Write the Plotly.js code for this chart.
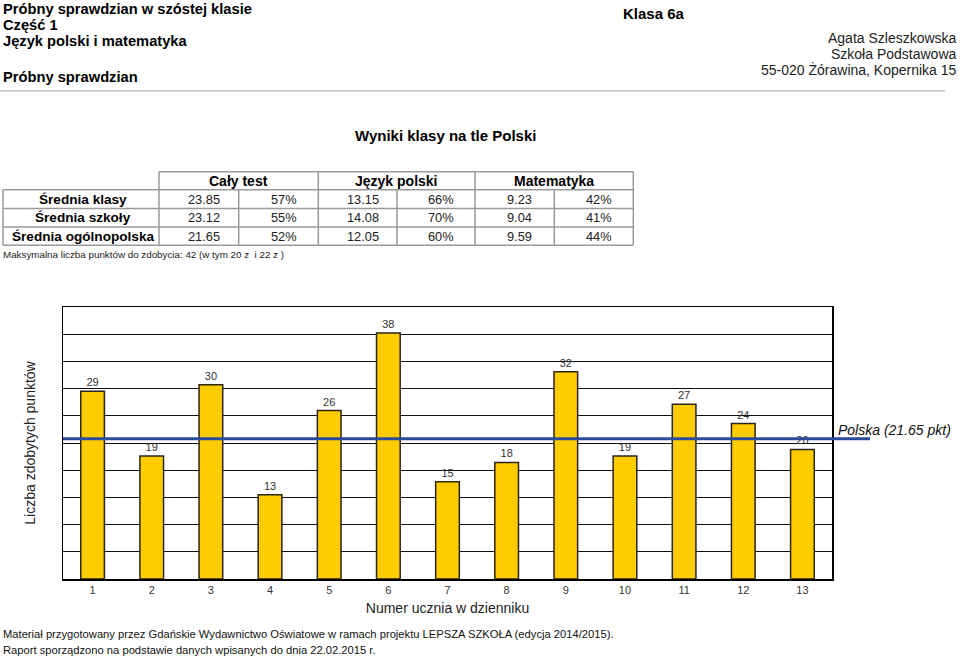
<!DOCTYPE html>
<html>
<head>
<meta charset="utf-8">
<script src="https://cdn.plot.ly/plotly-3.0.1.min.js"></script>
<style>
html,body{margin:0;padding:0;background:#fff;}
#chart{width:960px;height:658px;}
</style>
</head>
<body>
<div id="chart"></div>
<script>
// ---- data ----
const students = ['1','2','3','4','5','6','7','8','9','10','11','12','13'];
const points = [29, 19, 30, 13, 26, 38, 15, 18, 32, 19, 27, 24, 20];
const nationalAvg = 21.65;
const maxPoints = 42;
const nationalLabel = 'Polska (21.65 pkt)';

const rowLabels = ['Średnia klasy', 'Średnia szkoły', 'Średnia ogólnopolska'];
const groupLabels = ['Cały test', 'Język polski', 'Matematyka'];
const wholeScore = ['23.85', '23.12', '21.65'];
const wholePct = ['57%', '55%', '52%'];
const polishScore = ['13.15', '14.08', '12.05'];
const polishPct = ['66%', '70%', '60%'];
const mathScore = ['9.23', '9.04', '9.59'];
const mathPct = ['42%', '41%', '44%'];

const headerLeft = ['Próbny sprawdzian w szóstej klasie', 'Część 1', 'Język polski i matematyka', 'Próbny sprawdzian'];
const classLabel = 'Klasa 6a';
const addressLines = ['Agata Szleszkowska', 'Szkoła Podstawowa', '55-020 Żórawina, Kopernika 15'];
const sectionTitle = 'Wyniki klasy na tle Polski';
const maxNote = 'Maksymalna liczba punktów do zdobycia: 42 (w tym 20 z  i 22 z )';
const footer = ['Materiał przygotowany przez Gdańskie Wydawnictwo Oświatowe w ramach projektu LEPSZA SZKOŁA (edycja 2014/2015).',
                'Raport sporządzono na podstawie danych wpisanych do dnia 22.02.2015 r.'];
const xTitle = 'Numer ucznia w dzienniku';
const yTitle = 'Liczba zdobytych punktów';

// ---- layout geometry (pixels) ----
const W = 960, H = 658;
const L = 63, R = 832, T = 306.5, B = 579;
const px = x => (x - L) / (R - L);
const py = y => (B - y) / (B - T);
const FONT = '"Liberation Sans", Arial, sans-serif';

const annotations = [];
const shapes = [];
function txt(text, x, y, opts) {
  annotations.push(Object.assign({
    text: text, xref: 'paper', yref: 'paper', x: px(x), y: py(y),
    xanchor: 'left', yanchor: 'middle', showarrow: false, borderpad: 0,
    font: {family: FONT, size: 14, color: '#000'}
  }, opts || {}));
}
function hline(x0, x1, y, color, width) {
  shapes.push({type: 'line', xref: 'paper', yref: 'paper', x0: px(x0), x1: px(x1), y0: py(y), y1: py(y),
    line: {color: color, width: width}});
}
function vline(x, y0, y1, color, width) {
  shapes.push({type: 'line', xref: 'paper', yref: 'paper', x0: px(x), x1: px(x), y0: py(y0), y1: py(y1),
    line: {color: color, width: width}});
}

// header
const headerY = [7.5, 24, 40.5, 76];
headerLeft.forEach((t, i) => txt('<b>' + t + '</b>', 2, headerY[i], {font: {family: FONT, size: 14.7, color: '#000'}}));
txt('<b>' + classLabel + '</b>', 622, 12, {font: {family: FONT, size: 15, color: '#000'}});
const addrY = [37, 53, 69];
addressLines.forEach((t, i) => txt(t, 958, addrY[i], {xanchor: 'right', font: {family: FONT, size: 14, color: '#222'}}));
hline(0, 945, 90, '#a8a8a8', 1);
txt('<b>' + sectionTitle + '</b>', 445, 135, {xanchor: 'center', font: {family: FONT, size: 15, color: '#000'}});

// table
const colX = [159, 238.7, 318.3, 397, 475, 554.3, 633.3];
const rowY = [171, 189, 207.7, 226.3, 244.7];
const gridC = '#9a9a9a';
hline(colX[0], colX[6], rowY[0], gridC, 1.5);
for (let r = 1; r < rowY.length; r++) hline(3, colX[6], rowY[r], gridC, 1.5);
vline(3, rowY[1], rowY[4], gridC, 1.5);
colX.forEach((x, i) => vline(x, (i % 2 === 0) ? rowY[0] : rowY[1], rowY[4], gridC, 1.5));
groupLabels.forEach((g, i) => txt('<b>' + g + '</b>', (colX[2*i] + colX[2*i+2]) / 2, (rowY[0] + rowY[1]) / 2,
  {xanchor: 'center', font: {family: FONT, size: 14, color: '#000'}}));
const cols = [wholeScore, wholePct, polishScore, polishPct, mathScore, mathPct];
rowLabels.forEach((lab, r) => {
  const yc = (rowY[r+1] + rowY[r+2]) / 2;
  txt('<b>' + lab + '</b>', 83, yc, {xanchor: 'center', font: {family: FONT, size: 13.6, color: '#000'}});
  cols.forEach((c, k) => {
    txt(c[r], (colX[k] + colX[k+1]) / 2 + 5, yc, {xanchor: 'center', font: {family: FONT, size: 12.8, color: '#222'}});
  });
});
txt(maxNote, 2, 254, {font: {family: FONT, size: 9.8, color: '#222'}});

// footer
txt(footer[0], 2, 634, {font: {family: FONT, size: 11.2, color: '#111'}});
txt(footer[1], 2, 650, {font: {family: FONT, size: 11.2, color: '#111'}});

// national average line + label
shapes.push({type: 'line', xref: 'paper', yref: 'y', x0: 0, x1: px(870), y0: nationalAvg, y1: nationalAvg,
  line: {color: '#2a4b9b', width: 3}, layer: 'above'});
annotations.push({text: '<i>' + nationalLabel + '</i>', xref: 'paper', yref: 'y', x: px(837), y: nationalAvg,
  xanchor: 'left', yanchor: 'bottom', yshift: 0, showarrow: false, borderpad: 0,
  font: {family: FONT, size: 14, color: '#111'}});

const trace = {
  type: 'bar', x: students, y: points,
  marker: {color: '#ffcc00', line: {color: '#2b2418', width: 1.5}},
  text: points.map(String), textposition: 'outside', cliponaxis: false,
  textfont: {family: FONT, size: 11, color: '#333'},
  hoverinfo: 'x+y'
};

const layout = {
  width: W, height: H,
  margin: {l: L, r: W - R, t: T, b: H - B, pad: 0},
  paper_bgcolor: '#fff', plot_bgcolor: '#fff',
  showlegend: false, bargap: 0.6,
  font: {family: FONT, color: '#000'},
  xaxis: {type: 'category', showgrid: false, zeroline: false, showline: true, linecolor: '#000', linewidth: 1.5, mirror: true,
    ticks: '', tickfont: {family: FONT, size: 11, color: '#333'},
    title: {text: xTitle, font: {family: FONT, size: 14, color: '#222'}, standoff: 8}},
  yaxis: {range: [0, maxPoints], dtick: maxPoints / 10, tick0: 0, showgrid: true, gridcolor: '#111', gridwidth: 1,
    showticklabels: false, ticks: '', zeroline: false, showline: true, linecolor: '#000', linewidth: 1.5, mirror: true,
    title: {text: yTitle, font: {family: FONT, size: 14, color: '#222'}, standoff: 22}},
  shapes: shapes, annotations: annotations
};

Plotly.newPlot('chart', [trace], layout, {displayModeBar: false, staticPlot: true});
</script>
</body>
</html>
